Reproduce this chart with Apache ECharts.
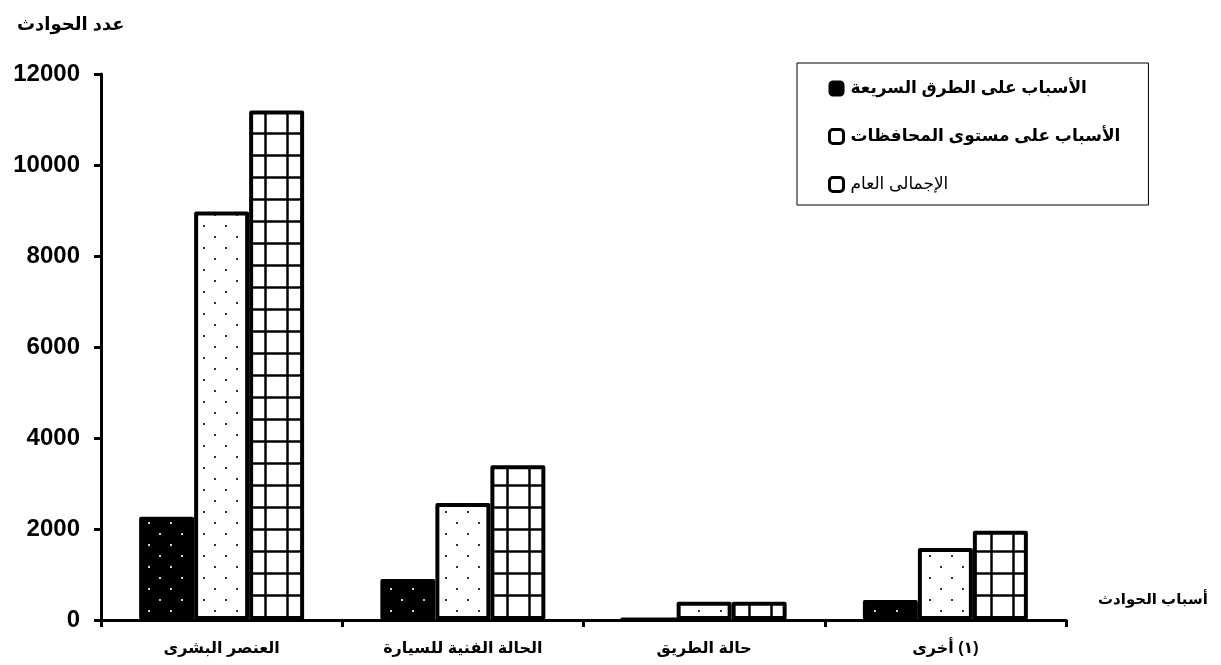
<!DOCTYPE html>
<html>
<head>
<meta charset="utf-8">
<script src="https://cdn.jsdelivr.net/npm/echarts@6/dist/echarts.min.js"></script>
<style>
html,body{margin:0;padding:0;background:#fff;}
#chart{width:1221px;height:665px;}
</style>
</head>
<body>
<div id="chart"></div>
<script>
const categories = ['العنصر البشرى', 'الحالة الفنية للسيارة', 'حالة الطريق', 'أخرى\u200E (١)'];
const seriesNames = ['الأسباب على الطرق السريعة', 'الأسباب على مستوى المحافظات', 'الإجمالى العام'];
const highwayValues = [2270, 900, 25, 440];
const governorateValues = [8980, 2570, 400, 1580];
const totalValues = [11200, 3400, 400, 1960];
const yTicks = [0, 2000, 4000, 6000, 8000, 10000, 12000];
const yAxisTitle = 'عدد الحوادث';
const xAxisTitle = 'أسباب الحوادث';

const FONT = '"Liberation Sans", Arial, "DejaVu Sans", sans-serif';

function dotPattern(bg, dot) {
  const c = document.createElement('canvas');
  c.width = 22; c.height = 22;
  const g = c.getContext('2d');
  g.fillStyle = bg; g.fillRect(0, 0, 22, 22);
  g.fillStyle = dot;
  g.fillRect(5, 5, 2, 2);
  g.fillRect(16, 16, 2, 2);
  return c;
}
function gridPattern() {
  const c = document.createElement('canvas');
  c.width = 22; c.height = 22;
  const g = c.getContext('2d');
  g.fillStyle = '#fff'; g.fillRect(0, 0, 22, 22);
  g.fillStyle = '#888';
  g.fillRect(0, 0, 3, 22);
  g.fillRect(0, 0, 22, 3);
  g.fillStyle = '#000';
  g.fillRect(0.5, 0, 2, 22);
  g.fillRect(0, 0.5, 22, 2);
  return c;
}

const fills = [
  { image: dotPattern('#000', '#d0d0d0'), repeat: 'repeat' },
  { image: dotPattern('#fff', '#333'), repeat: 'repeat' },
  { image: gridPattern(), repeat: 'repeat' }
];
const valueSets = [highwayValues, governorateValues, totalValues];

const chart = echarts.init(document.getElementById('chart'), null, { renderer: 'canvas' });

const barStyle = (i) => ({
  color: fills[i],
  borderColor: '#000',
  borderWidth: 4,
  borderJoin: 'round'
});

chart.setOption({
  animation: false,
  backgroundColor: '#fff',
  title: {
    text: yAxisTitle,
    left: 12,
    top: 11,
    textStyle: { fontFamily: FONT, fontSize: 18, fontWeight: 'bold', color: '#000' }
  },
  legend: {
    orient: 'vertical',
    left: 797,
    top: 63,
    padding: [17, 28, 12, 31],
    borderColor: '#000',
    borderWidth: 1,
    itemGap: 31,
    itemWidth: 14,
    itemHeight: 14,
    icon: 'roundRect',
    textStyle: { fontFamily: FONT, fontSize: 17, fontWeight: 'bold', color: '#000', padding: [0, 0, 0, 2] },
    data: [
      { name: seriesNames[0], itemStyle: { color: '#000', borderColor: '#000', borderWidth: 2 } },
      { name: seriesNames[1], itemStyle: { color: '#fff', borderColor: '#000', borderWidth: 3 } },
      { name: seriesNames[2], itemStyle: { color: '#fff', borderColor: '#000', borderWidth: 3 }, textStyle: { fontWeight: 'normal' } }
    ]
  },
  grid: { left: 101, right: 155, top: 74, bottom: 45, containLabel: false },
  xAxis: {
    type: 'category',
    data: categories,
    name: xAxisTitle,
    nameLocation: 'end',
    nameGap: 32,
    nameTextStyle: { fontFamily: FONT, fontSize: 15, fontWeight: 'bold', color: '#000', verticalAlign: 'bottom', lineHeight: 40 },
    axisLine: { lineStyle: { color: '#000', width: 3 } },
    axisTick: { show: true, length: 7, lineStyle: { color: '#000', width: 3 } },
    axisLabel: { fontFamily: FONT, fontSize: 16, fontWeight: 'bold', color: '#000', margin: 21 },
    splitLine: { show: false }
  },
  yAxis: {
    type: 'value',
    min: yTicks[0],
    max: yTicks[yTicks.length - 1],
    interval: yTicks[1] - yTicks[0],
    axisLine: { show: true, lineStyle: { color: '#000', width: 3 } },
    axisTick: { show: true, length: 7, lineStyle: { color: '#000', width: 3 } },
    axisLabel: { fontFamily: FONT, fontSize: 24, fontWeight: 'bold', color: '#000', margin: 21, formatter: (v) => String(v) },
    splitLine: { show: false }
  },
  series: valueSets.map((vals, i) => ({
    type: 'bar',
    name: seriesNames[i],
    data: vals,
    barWidth: 55,
    barGap: '0%',
    itemStyle: barStyle(i)
  }))
});
</script>
</body>
</html>
